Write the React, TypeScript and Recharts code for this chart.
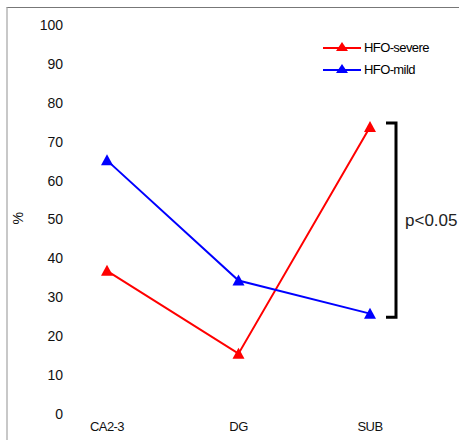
import React from 'react';
import { LineChart, Line, XAxis, YAxis, Legend, Customized } from 'recharts';

const REGIONS = ['CA2-3', 'DG', 'SUB'];
const SEVERE = [36.8, 15.5, 73.8];
const MILD = [65.2, 34.3, 25.8];
const Y_TICKS = [0, 10, 20, 30, 40, 50, 60, 70, 80, 90, 100];
const BRACKET = { top: 74.8, bottom: 24.9, label: 'p<0.05' };

const RED = '#ff0000';
const BLUE = '#0000ff';
const FONT = '"Liberation Sans", Arial, sans-serif';

const W = 451;
const H = 432;
const MARGIN = { top: 17, right: 40, bottom: 6, left: 0 };
const X_AXIS_H = 20;

const data = REGIONS.map((r, i) => ({ region: r, severe: SEVERE[i], mild: MILD[i] }));

function Triangle(props: any) {
  const { cx, cy, stroke } = props;
  if (cx == null || cy == null) return null;
  return <path d={`M${cx},${cy - 6} L${cx + 6},${cy + 5} L${cx - 6},${cy + 5} Z`} fill={stroke} stroke="none" />;
}

function LegendBox() {
  const rows = [
    { name: 'HFO-severe', color: RED },
    { name: 'HFO-mild', color: BLUE },
  ];
  return (
    <div style={{ fontFamily: FONT, fontSize: 13, letterSpacing: -0.6, color: '#000' }}>
      {rows.map((r) => (
        <div key={r.name} style={{ display: 'flex', alignItems: 'center', height: 22 }}>
          <svg width={40} height={12} style={{ marginRight: 1 }}>
            <line x1={0} y1={7} x2={38} y2={7} stroke={r.color} strokeWidth={2} />
            <path d="M19,1 L25,10 L13,10 Z" fill={r.color} />
          </svg>
          <span>{r.name}</span>
        </div>
      ))}
    </div>
  );
}

// significance bracket to the right of SUB, y from the 0-100 scale
function Bracket() {
  const plotH = H - MARGIN.top - MARGIN.bottom - X_AXIS_H;
  const y = (v: number) => MARGIN.top + (1 - v / 100) * plotH;
  const x = 388;
  const y1 = y(BRACKET.top);
  const y2 = y(BRACKET.bottom);
  return (
    <g>
      <path d={`M${x - 10},${y1} L${x},${y1} L${x},${y2} L${x - 10},${y2}`} fill="none" stroke="#000" strokeWidth={3} />
      <text x={x + 9} y={(y1 + y2) / 2 + 6} fontFamily={FONT} fontSize={17} fill="#222">
        {BRACKET.label}
      </text>
    </g>
  );
}

export default function App() {
  return (
    <div
      style={{
        position: 'absolute',
        left: 6,
        top: 7,
        width: 453,
        height: 433,
        borderTop: '1px solid #777',
        borderLeft: '2px solid #c8c8c8',
        background: '#fff',
        overflow: 'hidden',
      }}
    >
      <LineChart width={W} height={H} data={data} margin={MARGIN} style={{ fontFamily: FONT }}>
        <XAxis
          dataKey="region"
          axisLine={false}
          tickLine={false}
          height={X_AXIS_H}
          padding={{ left: 36, right: 49 }}
          tick={{ fontSize: 13, fill: '#111', letterSpacing: -0.6 }}
        />
        <YAxis
          domain={[0, 100]}
          ticks={Y_TICKS}
          interval={0}
          width={63}
          axisLine={false}
          tickLine={false}
          tick={{ fontSize: 14, fill: '#111' }}
          label={{ value: '%', angle: -90, position: 'insideLeft', offset: 10, dy: 5, fontSize: 14, fill: '#111' }}
        />
        <Legend
          layout="vertical"
          verticalAlign="middle"
          align="center"
          content={() => <LegendBox />}
          wrapperStyle={{ left: 315, top: 28, width: 130 }}
        />
        <Line dataKey="severe" name="HFO-severe" stroke={RED} strokeWidth={2} dot={<Triangle />} activeDot={false} isAnimationActive={false} />
        <Line dataKey="mild" name="HFO-mild" stroke={BLUE} strokeWidth={2} dot={<Triangle />} activeDot={false} isAnimationActive={false} />
        <Customized component={Bracket} />
      </LineChart>
    </div>
  );
}
